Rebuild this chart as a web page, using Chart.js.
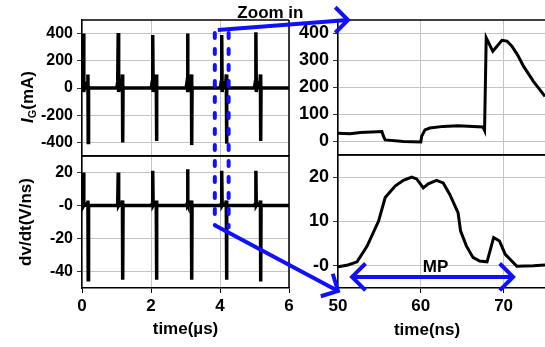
<!DOCTYPE html>
<html>
<head>
<meta charset="utf-8">
<script src="https://cdn.jsdelivr.net/npm/chart.js@4.4.1/dist/chart.umd.min.js"></script>
<style>
html, body { margin: 0; padding: 0; background: #fff; overflow: hidden; }
#wrap { position: relative; width: 545px; height: 347px; }
#wrap canvas { position: absolute; left: 0; top: 0; }
</style>
</head>
<body>
<div id="wrap">
<canvas id="tl" width="545" height="347"></canvas>
<canvas id="bl" width="545" height="347"></canvas>
<canvas id="tr" width="545" height="347"></canvas>
<canvas id="br" width="545" height="347"></canvas>
</div>
<script>
// left panels, time in µs (six switching events)
const leftTime = [
  0, 0.025, 0.04, 0.052, 0.08, 0.15, 0.172, 0.18, 0.19, 0.22,
  1.01, 1.035, 1.05, 1.062, 1.09, 1.15, 1.172, 1.18, 1.19, 1.22,
  2.01, 2.035, 2.05, 2.062, 2.09, 2.13, 2.152, 2.16, 2.17, 2.2,
  3.02, 3.045, 3.06, 3.072, 3.10, 3.15, 3.172, 3.18, 3.19, 3.22,
  4.01, 4.035, 4.05, 4.062, 4.09, 4.16, 4.182, 4.19, 4.2, 4.23,
  5.0, 5.025, 5.04, 5.052, 5.08, 5.15, 5.172, 5.18, 5.19, 5.22,
  6
];
const leftCurrent = [
  0, 45, 400, -30, 35, 0, 100, -400, 10, 0,
  0, 45, 405, -30, 35, 0, 100, -400, 10, 0,
  0, 45, 390, -30, 35, 0, 100, -390, 10, 0,
  0, 45, 400, -30, 35, 0, 100, -420, 10, 0,
  0, 45, 390, -30, 35, 0, 100, -410, 10, 0,
  0, 45, 410, -30, 35, 0, 100, -390, 10, 0,
  0
];
const leftDvdt = [
  0, 1, 20, 0, 1, 0, 3, -45, 0, 0,
  0, 1, 20, 0, 1, 0, 3, -45, 0, 0,
  0, 1, 21, 0, 1, 0, 3, -45, 0, 0,
  0, 1, 22, 0, 1, 0, 3, -45, 0, 0,
  0, 1, 21, 0, 1, 0, 3, -45, 0, 0,
  0, 1, 21, 0, 1, 0, 3, -46, 0, 0,
  0
];

// zoomed panels, time in ns
const zoomTimeI = [50, 51.45, 52.7, 55.3, 55.5, 55.7, 57.9, 60.0, 60.1, 60.5, 61.1, 62.7, 64.5,
  67.5, 67.7, 67.9, 68.7, 69.8, 70.4, 71.0, 71.7, 72.4, 73.6, 75];
const zoomCurrent = [31, 29, 33, 37, 19, 6, 0, -2, 19, 43, 50, 56, 58,
  54, 41, 384, 334, 375, 372, 353, 320, 279, 223, 167];
const zoomTimeV = [50, 51.2, 52.3, 53.5, 54.9, 55.7, 56.9, 57.9, 58.9, 59.5, 60.3, 60.9, 61.9,
  62.7, 63.5, 64.5, 64.8, 65.5, 66.3, 67.1, 68.0, 68.8, 69.5, 70.2, 71.6, 73.6, 75];
const zoomDvdt = [-0.2, 0.2, 0.9, 4.4, 10.1, 15.4, 18, 19.3, 20, 19.6, 17.6, 18.5, 19.3,
  18.7, 16.1, 12, 7.9, 4.5, 1.9, 1.1, 0.9, 6.4, 5.6, 2.6, -0.1, 0, 0.2];

// tick labels
const leftTimeTicks = [0, 2, 4, 6];
const zoomTimeTicks = [50, 60, 70];
const currentTicks = [-400, -200, 0, 200, 400];
const dvdtTicks = [-40, -20, 0, 20];
const zoomCurrentTicks = [0, 100, 200, 300, 400];
const zoomDvdtTicks = [0, 10, 20];

// marked window (µs) and MP interval (ns)
const zoomWindow = [3.85, 4.25];
const mpRange = [51.7, 71.15];

const family = '"Liberation Sans", Arial, sans-serif';
const blue = '#1010ff';
Chart.defaults.font.family = family;
Chart.defaults.color = '#000';

function tickList(values) {
  return scale => { scale.ticks = values.map(v => ({ value: v })); };
}

function frame(sides) {
  return {
    id: 'frame',
    afterDraw(chart) {
      const { ctx, chartArea: a } = chart;
      ctx.save();
      ctx.strokeStyle = '#000';
      ctx.lineWidth = 1.5;
      ctx.beginPath();
      ctx.moveTo(a.left, a.top);
      ctx.lineTo(a.right, a.top);
      if (sides.right) {
        ctx.moveTo(a.right, a.top);
        ctx.lineTo(a.right, a.bottom);
      }
      ctx.stroke();
      ctx.restore();
    }
  };
}

function panel(id, o) {
  return new Chart(document.getElementById(id), {
    type: 'line',
    data: {
      datasets: [{
        data: o.xs.map((x, i) => ({ x: x, y: o.ys[i] })),
        borderColor: '#000',
        borderWidth: o.lw,
        pointRadius: 0,
        tension: o.tension || 0,
        fill: false
      }]
    },
    options: {
      responsive: false,
      animation: false,
      events: [],
      layout: { padding: o.pad },
      plugins: { legend: { display: false }, tooltip: { enabled: false } },
      scales: {
        x: {
          type: 'linear', min: o.xMin, max: o.xMax,
          afterBuildTicks: tickList(o.xTicks),
          afterFit: s => { s.height = o.xh; },
          grid: { color: '#c4c4c4', drawTicks: o.xLabels, tickLength: 5, tickColor: '#000' },
          border: { color: '#000', width: 1.5 },
          ticks: { display: o.xLabels, padding: 3, font: { size: 17, weight: 'bold' } },
          title: o.xTitle ? { display: true, text: o.xTitle, padding: { bottom: 7 }, font: { size: 17, weight: 'bold' } } : { display: false }
        },
        y: {
          min: o.yMin, max: o.yMax,
          afterBuildTicks: tickList(o.yTicks),
          afterFit: s => { s.width = o.yw; },
          grid: { color: '#c4c4c4', tickLength: 5, tickColor: '#333' },
          border: { color: '#000', width: 1.5 },
          ticks: {
            padding: 4,
            font: { size: o.yFont, weight: 'bold' },
            callback: v => (v === 0 ? o.zero : String(v))
          },
          title: o.yTitle ? { display: true, text: o.yTitle, padding: { top: 16 }, font: { size: 17, weight: 'bold' } } : { display: false }
        }
      }
    },
    plugins: [frame(o.sides)].concat(o.extra || [])
  });
}

const gateTitle = {
  id: 'gateTitle',
  afterDraw(chart) {
    const ctx = chart.ctx;
    const parts = [
      { t: 'I', f: 'italic bold 17px ' + family, dy: 0 },
      { t: 'G', f: 'bold 11px ' + family, dy: 3 },
      { t: '(mA)', f: 'bold 17px ' + family, dy: 0 }
    ];
    let total = 0;
    parts.forEach(p => { ctx.font = p.f; p.w = ctx.measureText(p.t).width; total += p.w; });
    ctx.save();
    ctx.translate(33, 97);
    ctx.rotate(-Math.PI / 2);
    ctx.fillStyle = '#000';
    ctx.textBaseline = 'alphabetic';
    let x = -total / 2;
    parts.forEach(p => { ctx.font = p.f; ctx.fillText(p.t, x, p.dy); x += p.w; });
    ctx.restore();
  }
};

const tl = panel('tl', {
  xs: leftTime, ys: leftCurrent, lw: 3.5,
  xMin: 0, xMax: 6, yMin: -500, yMax: 500,
  xTicks: leftTimeTicks, yTicks: currentTicks, zero: '0',
  pad: { left: 0, top: 20, right: 256, bottom: 191 }, xh: 0, yw: 82,
  xLabels: false, yFont: 16, sides: { right: true }, extra: [gateTitle]
});

const bl = panel('bl', {
  xs: leftTime, ys: leftDvdt, lw: 3.5,
  xMin: 0, xMax: 6, yMin: -50, yMax: 30,
  xTicks: leftTimeTicks, yTicks: dvdtTicks, zero: '-0',
  pad: { left: 0, top: 156, right: 256, bottom: 0 }, xh: 59, yw: 82,
  xLabels: true, yFont: 16, sides: { right: true },
  yTitle: 'dv/dt(V/ns)', xTitle: 'time(µs)'
});

const tr = panel('tr', {
  xs: zoomTimeI, ys: zoomCurrent, lw: 3,
  xMin: 50, xMax: 75, yMin: -50, yMax: 450,
  xTicks: zoomTimeTicks, yTicks: zoomCurrentTicks, zero: '0',
  pad: { left: 288, top: 20, right: 0, bottom: 192 }, xh: 0, yw: 50,
  xLabels: false, yFont: 18, sides: { right: false }
});

function arrowHead(ctx, x, y, angle, len) {
  ctx.beginPath();
  ctx.moveTo(x + len * Math.cos(angle + Math.PI * 0.75), y + len * Math.sin(angle + Math.PI * 0.75));
  ctx.lineTo(x, y);
  ctx.lineTo(x + len * Math.cos(angle - Math.PI * 0.75), y + len * Math.sin(angle - Math.PI * 0.75));
  ctx.stroke();
}

const annotate = {
  id: 'annotate',
  afterDraw(chart) {
    const ctx = chart.ctx;
    const a = chart.chartArea;
    const ta = tr.chartArea;
    const x1 = tl.scales.x.getPixelForValue(zoomWindow[0]);
    const x2 = tl.scales.x.getPixelForValue(zoomWindow[1]);
    const yTop = tl.scales.y.getPixelForValue(405);
    const yBot = bl.scales.y.getPixelForValue(-12);

    ctx.save();
    // title of the zoomed time axis
    ctx.fillStyle = '#000';
    ctx.font = 'bold 17px ' + family;
    ctx.textAlign = 'center';
    ctx.textBaseline = 'middle';
    ctx.fillText('time(ns)', a.left + 89, 330);
    ctx.textBaseline = 'alphabetic';
    ctx.fillText('Zoom in', (x1 + ta.left) / 2 - 6, 18);

    ctx.strokeStyle = blue;
    ctx.lineWidth = 4;
    ctx.lineCap = 'round';
    ctx.setLineDash([5, 11]);
    ctx.beginPath();
    ctx.moveTo(x1, yTop); ctx.lineTo(x1, yBot);
    ctx.moveTo(x2, yTop); ctx.lineTo(x2, yBot + 2);
    ctx.stroke();
    ctx.setLineDash([]);
    ctx.lineCap = 'butt';
    ctx.lineJoin = 'miter';

    // arrow to the upper zoomed panel
    const tipX = ta.left + 10, tipY = ta.top;
    ctx.beginPath();
    ctx.moveTo(x1 + 3, yTop - 3);
    ctx.lineTo(tipX, tipY);
    ctx.stroke();
    arrowHead(ctx, tipX, tipY, 0, 18);

    // arrow to the lower zoomed panel
    const bx = a.left, by = a.bottom + 3;
    ctx.beginPath();
    ctx.moveTo(x1, yBot);
    ctx.lineTo(bx, by);
    ctx.stroke();
    arrowHead(ctx, bx, by, Math.atan2(by - yBot, bx - x1), 18);

    // MP interval
    const m1 = chart.scales.x.getPixelForValue(mpRange[0]);
    const m2 = chart.scales.x.getPixelForValue(mpRange[1]);
    const my = chart.scales.y.getPixelForValue(-2.5);
    ctx.beginPath();
    ctx.moveTo(m1, my); ctx.lineTo(m2, my);
    ctx.stroke();
    arrowHead(ctx, m1, my, Math.PI, 19);
    arrowHead(ctx, m2, my, 0, 19);
    ctx.fillText('MP', (m1 + m2) / 2 + 3, my - 5);
    ctx.restore();
  }
};

const br = panel('br', {
  xs: zoomTimeV, ys: zoomDvdt, lw: 3,
  xMin: 50, xMax: 75, yMin: -5, yMax: 25,
  xTicks: zoomTimeTicks, yTicks: zoomDvdtTicks, zero: '-0',
  pad: { left: 288, top: 155, right: 0, bottom: 0 }, xh: 59, yw: 50,
  xLabels: true, yFont: 18, sides: { right: false }, extra: [annotate]
});
</script>
</body>
</html>
